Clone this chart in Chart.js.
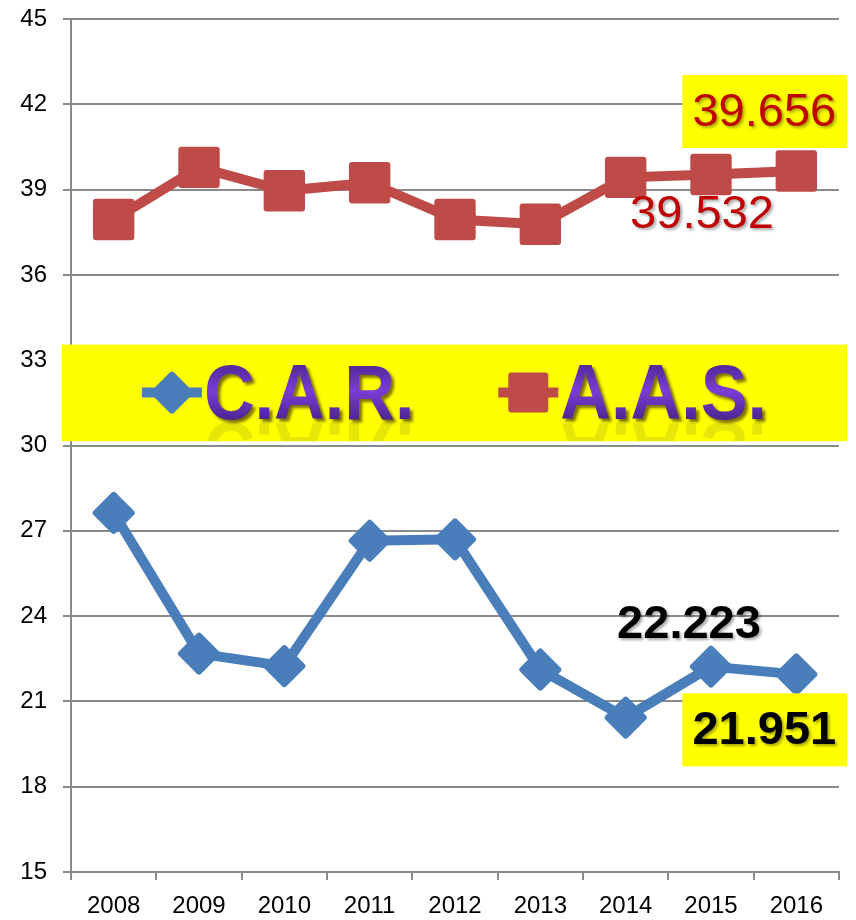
<!DOCTYPE html>
<html>
<head>
<meta charset="utf-8">
<script src="https://cdn.jsdelivr.net/npm/chart.js@4.4.1/dist/chart.umd.min.js"></script>
<style>
  html, body { margin: 0; padding: 0; background: #fff; }
</style>
</head>
<body>
<canvas id="myChart" width="856" height="920"></canvas>
<script>
// data
var years = ['2008', '2009', '2010', '2011', '2012', '2013', '2014', '2015', '2016'];
var carValues = [27.63, 22.68, 22.24, 26.65, 26.70, 22.12, 20.43, 22.223, 21.951];
var aasValues = [37.95, 39.78, 38.96, 39.24, 37.95, 37.78, 39.43, 39.532, 39.656];
var seriesNames = ['C.A.R.', 'A.A.S.'];
var yMin = 15, yMax = 45, yStep = 3;

var blue = '#4A7EBB', red = '#BE4B48';
var font = "'Liberation Sans', Arial, sans-serif";

// which points get a value label (dataset, index) and how it looks
var valueLabels = [
  { ds: 1, idx: 8, dx: -32, dy: -60, box: true,  color: '#C00000', weight: 'normal' },
  { ds: 1, idx: 7, dx: -9,  dy: 39,  box: false, color: '#C00000', weight: 'normal' },
  { ds: 0, idx: 7, dx: -22, dy: -44, box: false, color: '#000000', weight: 'bold' },
  { ds: 0, idx: 8, dx: -32, dy: 55,  box: true,  color: '#000000', weight: 'bold' }
];

function diamond(ctx, x, y, r) {
  ctx.beginPath();
  ctx.moveTo(x - r, y); ctx.lineTo(x, y - r); ctx.lineTo(x + r, y); ctx.lineTo(x, y + r);
  ctx.closePath();
}
function square(ctx, x, y, h) {
  ctx.beginPath();
  ctx.rect(x - h, y - h, 2 * h, 2 * h);
}

var roundJoins = {
  id: 'roundJoins',
  beforeDatasetsDraw: function(chart) { chart.ctx.lineJoin = 'round'; },
  afterDatasetsDraw: function(chart) { chart.ctx.lineJoin = 'miter'; }
};

var overlay = {
  id: 'overlay',
  afterDraw: function(chart) {
    var ctx = chart.ctx, ca = chart.chartArea, ys = chart.scales.y;
    // legend band
    var top = ys.getPixelForValue(33.55), bottom = ys.getPixelForValue(30.15);
    var left = ca.left - 9, right = ca.right + 8, w = right - left;
    ctx.save();
    ctx.fillStyle = '#FFFF00';
    ctx.fillRect(left, top, w, bottom - top);
    var mid = top + 48, base = top + 74;
    var itemX = [left + w * 0.14, left + w * 0.594];
    var colors = [blue, red];
    for (var i = 0; i < seriesNames.length; i++) {
      var cx = itemX[i];
      ctx.lineJoin = 'round';
      ctx.strokeStyle = colors[i]; ctx.fillStyle = colors[i];
      ctx.lineWidth = 10;
      ctx.beginPath(); ctx.moveTo(cx - 30, mid); ctx.lineTo(cx + 30, mid); ctx.stroke();
      ctx.lineWidth = 6;
      if (i === 0) diamond(ctx, cx, mid, 18); else square(ctx, cx, mid, 17);
      ctx.fill(); ctx.stroke();

      var tx = cx + 32;
      ctx.font = 'bold 78px ' + font;
      ctx.textAlign = 'left'; ctx.textBaseline = 'alphabetic';
      // reflection
      ctx.save();
      ctx.beginPath(); ctx.rect(left, base + 2, w, bottom - base - 2); ctx.clip();
      ctx.translate(tx, base * 2 + 4); ctx.scale(0.9, -1);
      ctx.globalAlpha = 0.13; ctx.fillStyle = '#404040';
      ctx.fillText(seriesNames[i], 0, base);
      ctx.restore();
      // text
      ctx.save();
      ctx.translate(tx, 0); ctx.scale(0.9, 1);
      var g = ctx.createLinearGradient(0, base - 56, 0, base);
      g.addColorStop(0, '#4E2694'); g.addColorStop(0.5, '#7A3DD6'); g.addColorStop(1, '#4E2694');
      ctx.fillStyle = g;
      ctx.shadowColor = 'rgba(40,20,0,0.6)'; ctx.shadowBlur = 3; ctx.shadowOffsetX = 3; ctx.shadowOffsetY = 3;
      ctx.fillText(seriesNames[i], 0, base);
      ctx.restore();
    }
    ctx.restore();

    // value labels
    valueLabels.forEach(function(l) {
      var pt = chart.getDatasetMeta(l.ds).data[l.idx];
      var v = chart.data.datasets[l.ds].data[l.idx];
      var x = pt.x + l.dx, y = pt.y + l.dy;
      ctx.save();
      if (l.box) {
        ctx.fillStyle = '#FFFF00';
        ctx.fillRect(x - 82, y - 36, 165, 73);
      }
      ctx.font = l.weight + ' 47px ' + font;
      ctx.textAlign = 'center'; ctx.textBaseline = 'middle';
      ctx.shadowColor = 'rgba(0,0,0,0.35)'; ctx.shadowBlur = 3; ctx.shadowOffsetX = 2; ctx.shadowOffsetY = 2;
      ctx.fillStyle = l.color;
      ctx.fillText(v.toFixed(3), x, y + 2);
      ctx.restore();
    });
  }
};

var gridColor = '#8a8a8a';
var ctx = document.getElementById('myChart').getContext('2d');
var myChart = new Chart(ctx, {
  type: 'line',
  data: {
    labels: years,
    datasets: [{
      label: seriesNames[0],
      data: carValues,
      borderColor: blue, backgroundColor: blue,
      borderWidth: 10, borderJoinStyle: 'round',
      pointStyle: 'rectRot', pointRadius: 18, pointBorderWidth: 6,
      pointBackgroundColor: blue, pointBorderColor: blue,
      tension: 0
    }, {
      label: seriesNames[1],
      data: aasValues,
      borderColor: red, backgroundColor: red,
      borderWidth: 10, borderJoinStyle: 'round',
      pointStyle: 'rect', pointRadius: 25, pointBorderWidth: 6,
      pointBackgroundColor: red, pointBorderColor: red,
      tension: 0
    }]
  },
  options: {
    responsive: false,
    animation: false,
    layout: { autoPadding: false, padding: { top: 19, right: 17, left: 0, bottom: 0 } },
    plugins: { legend: { display: false }, tooltip: { enabled: false } },
    scales: {
      x: {
        offset: true,
        grid: { offset: true, drawOnChartArea: false, drawTicks: true, tickLength: 8, color: gridColor, lineWidth: 2 },
        border: { color: gridColor, width: 2 },
        ticks: { color: '#000', font: { family: font, size: 24 }, padding: 12, maxRotation: 0 },
        afterFit: function(s) { s.height = 48; s.paddingLeft = 0; s.paddingRight = 0; }
      },
      y: {
        min: yMin, max: yMax,
        grid: { color: gridColor, lineWidth: 2, tickLength: 8 },
        border: { color: gridColor, width: 2 },
        ticks: { stepSize: yStep, color: '#000', font: { family: font, size: 24 }, padding: 16 },
        afterFit: function(s) { s.width = 71; s.paddingTop = 0; s.paddingBottom = 0; }
      }
    }
  },
  plugins: [roundJoins, overlay]
});
</script>
</body>
</html>
